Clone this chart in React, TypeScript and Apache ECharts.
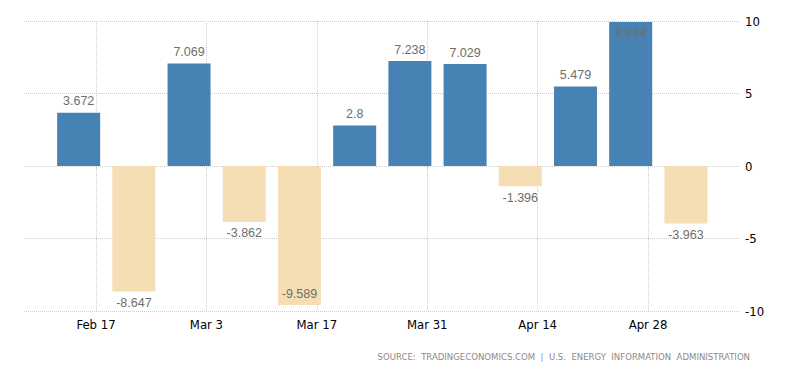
import React, { useEffect, useRef } from 'react';
import * as echarts from 'echarts';

// Weekly data (week dates) and weekly change values
const weekDates = [
  '2025-02-15', '2025-02-22', '2025-03-01', '2025-03-08', '2025-03-15', '2025-03-22',
  '2025-03-29', '2025-04-05', '2025-04-12', '2025-04-19', '2025-04-26', '2025-05-03',
];
const changes = [3.672, -8.647, 7.069, -3.862, -9.589, 2.8, 7.238, 7.029, -1.396, 5.479, 9.934, -3.963];

// X tick dates and labels
const tickDates = ['2025-02-17', '2025-03-03', '2025-03-17', '2025-03-31', '2025-04-14', '2025-04-28'];
const tickLabels = ['Feb 17', 'Mar 3', 'Mar 17', 'Mar 31', 'Apr 14', 'Apr 28'];

// Y ticks
const yMin = -10;
const yMax = 10;
const yStep = 5;

const sourceText = 'SOURCE:  TRADINGECONOMICS.COM  |  U.S.  ENERGY  INFORMATION  ADMINISTRATION';

const DAY = 86400000;

export default function App() {
  const ref = useRef<HTMLDivElement>(null);

  useEffect(() => {
    document.body.style.margin = '0';
    if (!ref.current) return;
    const chart = echarts.init(ref.current, undefined, { renderer: 'svg' });

    const tickMs = tickDates.map((d) => Date.parse(d));
    const base = tickMs[0];
    const xMin = base - 9.13 * DAY;
    const xMax = base + 81.66 * DAY;
    const barShift = -0.2 * DAY; // small visual offset of bars

    const labelFont = 'Liberation Sans, Arial, sans-serif';
    const axisFont = 'DejaVu Sans Condensed, DejaVu Sans, sans-serif';

    const data = weekDates.map((d, i) => {
      const v = changes[i];
      const extreme = Math.abs(v) > 9;
      return {
        value: [Date.parse(d) + barShift, v],
        itemStyle: { color: v >= 0 ? '#4682B4' : '#F5DEB3' },
        label: {
          position: v >= 0 ? (extreme ? 'insideTop' : 'top') : (extreme ? 'insideBottom' : 'bottom'),
          distance: 5,
        },
      };
    });

    chart.setOption({
      animation: false,
      grid: { left: 24, right: 60, top: 21, bottom: 62, containLabel: false },
      xAxis: {
        type: 'value',
        min: xMin,
        max: xMax,
        axisLine: { show: false },
        axisTick: {
          show: true,
          customValues: tickMs,
          length: 4,
          lineStyle: { color: '#cccccc' },
        },
        axisLabel: {
          customValues: tickMs,
          color: '#000',
          fontFamily: axisFont,
          fontSize: 13,
          margin: 7,
          formatter: (v: number) => {
            let best = 0;
            for (let i = 0; i < tickMs.length; i++) {
              if (Math.abs(tickMs[i] - v) < Math.abs(tickMs[best] - v)) best = i;
            }
            return tickLabels[best];
          },
        },
        splitLine: {
          show: true,
          lineStyle: { color: '#cccccc', type: 'dotted', width: 1 },
        },
      },
      yAxis: {
        type: 'value',
        position: 'right',
        min: yMin,
        max: yMax,
        interval: yStep,
        axisLine: { show: false },
        axisTick: { show: false },
        axisLabel: {
          color: '#000',
          fontFamily: axisFont,
          fontSize: 13,
          margin: 5,
        },
        splitLine: {
          show: true,
          lineStyle: { color: '#cccccc', type: 'dotted', width: 1 },
        },
      },
      series: [
        {
          type: 'bar',
          barWidth: 43,
          data,
          label: {
            show: true,
            color: '#6e6e6e',
            fontFamily: labelFont,
            fontSize: 12.5,
            formatter: (p: any) => String(p.value[1]),
          },
        },
      ],
      graphic: [
        {
          type: 'text',
          right: 50,
          top: 351,
          style: {
            text: sourceText,
            fill: '#8a8a8a',
            font: '9.5px "DejaVu Sans Condensed", "DejaVu Sans", sans-serif',
          },
        },
      ],
    });

    return () => chart.dispose();
  }, []);

  return <div ref={ref} style={{ width: 800, height: 373 }} />;
}
